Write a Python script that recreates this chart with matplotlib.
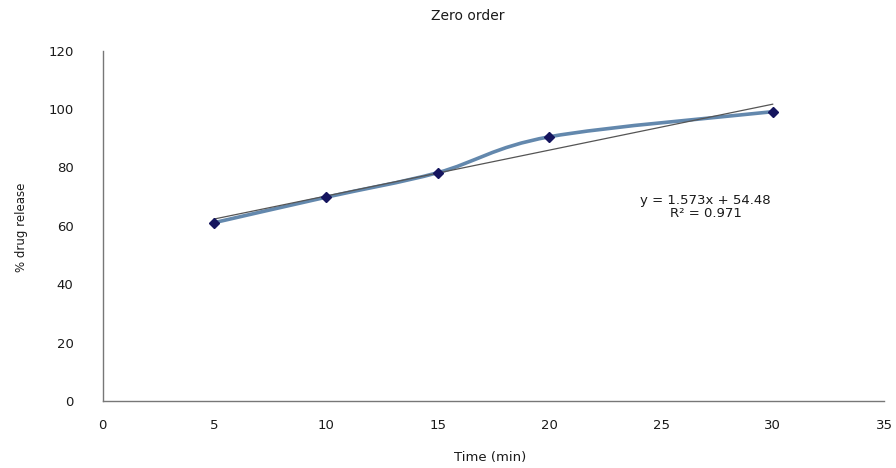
import numpy as np
import matplotlib
matplotlib.use("Agg")
import matplotlib.pyplot as plt
from matplotlib.path import Path
from matplotlib.patches import PathPatch

# Data
time_min = [5, 10, 15, 20, 30]
drug_release = [61.1, 69.8, 78.2, 90.5, 99.1]
slope, intercept = 1.573, 54.48
r_squared = 0.971
x_ticks = [0, 5, 10, 15, 20, 25, 30, 35]
y_ticks = [0, 20, 40, 60, 80, 100, 120]

plt.rcParams['font.family'] = ['DejaVu Sans']

fig = plt.figure(figsize=(8.96, 4.68), dpi=100)
ax = fig.add_axes([0.1146, 0.1432, 0.987 - 0.1146, 0.8917 - 0.1432])

# Smoothed line (Catmull-Rom style Bezier through the data points)
xs = np.array(time_min, float)
ys = np.array(drug_release, float)
verts = [(xs[0], ys[0])]
codes = [Path.MOVETO]
n = len(xs)
for i in range(n - 1):
    p0 = np.array([xs[max(i - 1, 0)], ys[max(i - 1, 0)]])
    p1 = np.array([xs[i], ys[i]])
    p2 = np.array([xs[i + 1], ys[i + 1]])
    p3 = np.array([xs[min(i + 2, n - 1)], ys[min(i + 2, n - 1)]])
    t = 1 / 6
    c1 = p1 + (p2 - p0) * t
    c2 = p2 - (p3 - p1) * t
    verts += [tuple(c1), tuple(c2), tuple(p2)]
    codes += [Path.CURVE4] * 3
ax.add_patch(PathPatch(Path(verts, codes), facecolor='none',
                       edgecolor='#6388ad', lw=2.6, zorder=2))

# Linear trendline
tx = np.array([time_min[0], time_min[-1]], float)
ax.plot(tx, slope * tx + intercept, color='#555555', lw=0.9, zorder=3)

# Markers
ax.plot(time_min, drug_release, linestyle='none', marker='D', markersize=5,
        color='#15155e', zorder=4)

ax.text(27.0, 66.4, f"y = {slope}x + {intercept}\nR² = {r_squared}",
        ha='center', va='center', fontsize=9.5, color='#1a1a1a', linespacing=1.0)

ax.set_xlim(0, 35)
ax.set_ylim(0, 120)
ax.set_xticks(x_ticks)
ax.set_yticks(y_ticks)
ax.tick_params(length=0, labelsize=9.5, colors='#1a1a1a')
ax.tick_params(axis='y', pad=21)
ax.tick_params(axis='x', pad=13)
for s in ['top', 'right']:
    ax.spines[s].set_visible(False)
for s in ['left', 'bottom']:
    ax.spines[s].set_color('#777777')
    ax.spines[s].set_linewidth(1.0)

fig.text(468 / 896, 1 - 16 / 468, "Zero order", ha='center', va='center',
         fontsize=10, color='#1a1a1a')
fig.text(490 / 896, 1 - 458 / 468, "Time (min)", ha='center', va='center',
         fontsize=9.5, color='#1a1a1a')
fig.text(22 / 896, 1 - 227 / 468, "% drug release", ha='center', va='center',
         rotation=90, fontsize=8.5, color='#1a1a1a')

fig.savefig("out.png", dpi=100)
